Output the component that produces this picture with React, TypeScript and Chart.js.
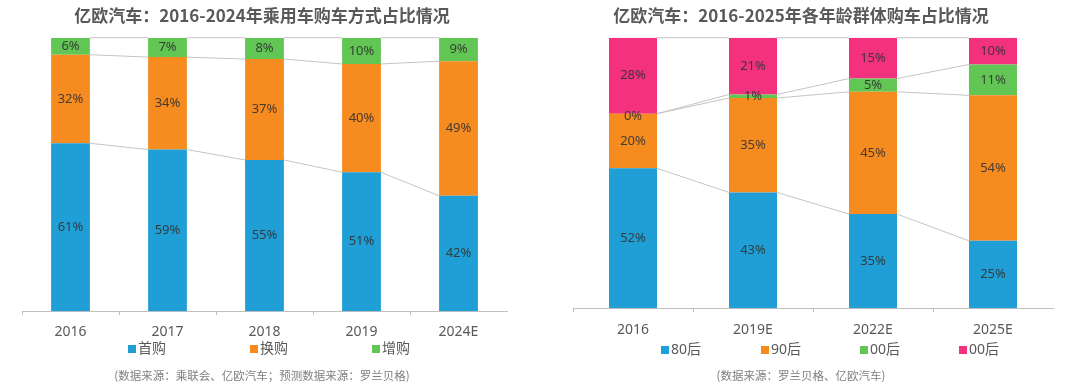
import React, { useEffect, useRef } from "react";
import { Chart, registerables } from "chart.js";

Chart.register(...registerables);

// ---------- data ----------
const leftCategories = ["2016", "2017", "2018", "2019", "2024E"];
const firstPurchase = [61.4, 59.1, 55.3, 50.8, 42.2];
const replacementPurchase = [32.4, 33.8, 36.9, 39.6, 49.2];
const additionalPurchase = [6.2, 7.1, 7.8, 9.6, 8.6];
const leftSeriesNames = ["首购", "换购", "增购"];

const rightCategories = ["2016", "2019E", "2022E", "2025E"];
const post80 = [51.7, 42.8, 34.8, 24.9];
const post90 = [20.2, 34.9, 45.2, 53.8];
const post00Green = [0, 1.3, 4.9, 11.4];
const post00Pink = [28.1, 21.0, 15.1, 9.9];
const rightSeriesNames = ["80后", "90后", "00后", "00后"];

const leftTitle = "亿欧汽车：2016-2024年乘用车购车方式占比情况";
const rightTitle = "亿欧汽车：2016-2025年各年龄群体购车占比情况";
const leftSource = "(数据来源：乘联会、亿欧汽车；预测数据来源：罗兰贝格)";
const rightSource = "(数据来源：罗兰贝格、亿欧汽车)";

// ---------- styles ----------
const BLUE = "#1f9fd5";
const ORANGE = "#f68b1f";
const GREEN = "#62c655";
const PINK = "#f3317f";
const FAMILY = '"Noto Sans", "Noto Sans CJK SC", sans-serif';
const CJK = '"Noto Sans CJK SC", "Noto Sans", sans-serif';

const barPlugin = {
  id: "barDecor",
  afterDatasetsDraw(chart: any) {
    const ctx = chart.ctx;
    ctx.save();
    ctx.strokeStyle = "#c4c4c4";
    ctx.lineWidth = 1;
    chart.data.datasets.forEach((_ds: any, di: number) => {
      const meta = chart.getDatasetMeta(di);
      for (let i = 0; i < meta.data.length - 1; i++) {
        const a: any = meta.data[i];
        const b: any = meta.data[i + 1];
        ctx.beginPath();
        ctx.moveTo(a.x + a.width / 2, a.y);
        ctx.lineTo(b.x - b.width / 2, b.y);
        ctx.stroke();
      }
    });
    ctx.fillStyle = "rgba(50,50,50,0.9)";
    ctx.font = `13px ${FAMILY}`;
    ctx.textAlign = "center";
    ctx.textBaseline = "middle";
    chart.data.datasets.forEach((ds: any, di: number) => {
      const meta = chart.getDatasetMeta(di);
      meta.data.forEach((el: any, i: number) => {
        const v = ds.data[i];
        const cy = (el.y + el.base) / 2 + (v === 0 ? 3 : 0);
        ctx.fillText(Math.round(v) + "%", el.x, cy);
      });
    });
    ctx.restore();
  },
  afterDraw(chart: any, _args: any, opts: any) {
    const ctx = chart.ctx;
    ctx.save();
    ctx.textBaseline = "middle";
    // title
    ctx.fillStyle = "#595959";
    ctx.font = `bold 17px ${CJK}`;
    ctx.textAlign = "center";
    ctx.fillText(opts.title, opts.titleX, 16);
    // legend
    ctx.font = `14px ${FAMILY}`;
    ctx.textAlign = "left";
    chart.data.datasets.forEach((ds: any, di: number) => {
      const x = opts.legendX[di];
      ctx.fillStyle = ds.backgroundColor;
      ctx.fillRect(x, opts.legendY - 4, 8, 8);
      ctx.fillStyle = "#595959";
      ctx.fillText(ds.label, x + 10, opts.legendY);
    });
    // source
    ctx.fillStyle = "#7f7f7f";
    ctx.font = `11.5px ${CJK}`;
    ctx.textAlign = "center";
    ctx.fillText(opts.source, opts.titleX, 376);
    ctx.restore();
  },
};

function buildConfig(
  labels: string[],
  series: number[][],
  names: string[],
  colors: string[],
  padding: any,
  tickPad: number,
  decor: any
): any {
  return {
    type: "bar",
    data: {
      labels,
      datasets: series.map((d, i) => ({
        label: names[i],
        data: d,
        backgroundColor: colors[i],
        borderWidth: 0,
        barPercentage: 0.4,
        categoryPercentage: 1,
      })),
    },
    options: {
      animation: false,
      responsive: true,
      maintainAspectRatio: false,
      layout: { padding },
      plugins: {
        legend: { display: false },
        title: { display: false },
        tooltip: { enabled: false },
        barDecor: decor,
      },
      scales: {
        x: {
          stacked: true,
          grid: {
            display: true,
            drawOnChartArea: false,
            drawTicks: true,
            tickLength: 4,
            offset: true,
            color: (c: any) => (c.index === undefined ? "rgba(0,0,0,0)" : "#bfbfbf"),
          },
          border: { display: true, color: "#bfbfbf", width: 1 },
          ticks: { color: "#595959", font: { size: 14, family: FAMILY }, padding: tickPad },
        },
        y: {
          stacked: true,
          display: false,
          min: 0,
          max: 100,
        },
      },
    },
    plugins: [barPlugin],
  };
}

function ChartBox({ config }: { config: any }) {
  const ref = useRef<HTMLCanvasElement | null>(null);
  useEffect(() => {
    if (!ref.current) return;
    const chart = new Chart(ref.current, config);
    return () => chart.destroy();
  }, [config]);
  return (
    <div style={{ position: "relative", width: 540, height: 391 }}>
      <canvas ref={ref} />
    </div>
  );
}

const leftConfig = buildConfig(
  leftCategories,
  [firstPurchase, replacementPurchase, additionalPurchase],
  leftSeriesNames,
  [BLUE, ORANGE, GREEN],
  { top: 37.7, left: 22, right: 33, bottom: 43 },
  8,
  { title: leftTitle, titleX: 262, legendX: [128, 250, 372], legendY: 349, source: leftSource }
);

const rightConfig = buildConfig(
  rightCategories,
  [post80, post90, post00Green, post00Pink],
  rightSeriesNames,
  [BLUE, ORANGE, GREEN, PINK],
  { top: 37.7, left: 33, right: 27, bottom: 44 },
  9,
  { title: rightTitle, titleX: 261, legendX: [121, 221, 320, 419], legendY: 350, source: rightSource }
);

export default function App() {
  return (
    <div
      style={{
        position: "absolute",
        left: 0,
        top: 0,
        width: 1080,
        height: 391,
        display: "flex",
        background: "#ffffff",
      }}
    >
      <ChartBox config={leftConfig} />
      <ChartBox config={rightConfig} />
    </div>
  );
}
